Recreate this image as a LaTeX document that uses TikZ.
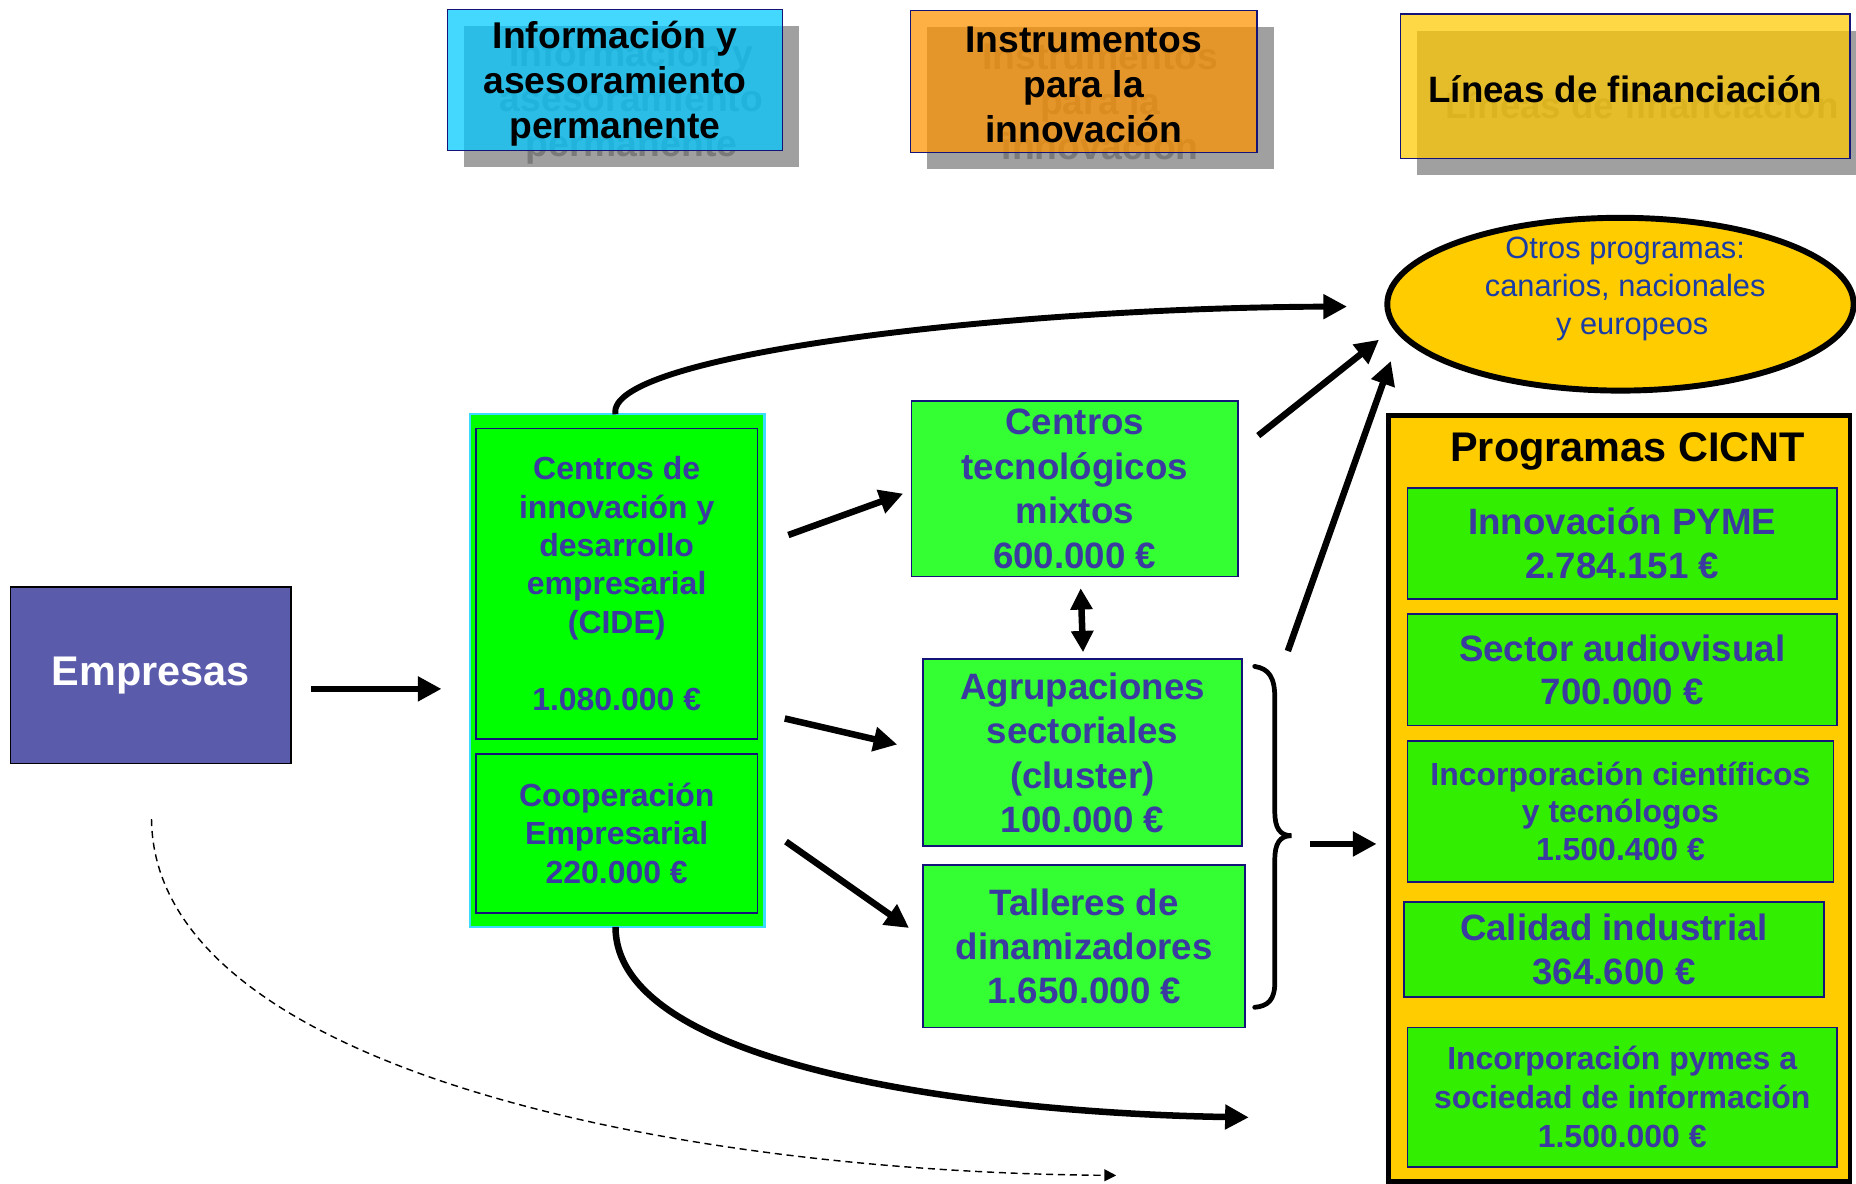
\documentclass[tikz,border=0pt]{standalone}
\usepackage{fontspec}
\setmainfont{Liberation Sans}
\usetikzlibrary{arrows.meta,shapes.geometric}
\definecolor{txtblue}{RGB}{58,58,160}
\definecolor{elltxt}{RGB}{25,60,165}
\definecolor{navy}{RGB}{20,20,120}
\definecolor{hcyan}{RGB}{0,201,255}
\definecolor{horange}{RGB}{255,147,0}
\definecolor{hyellow}{RGB}{255,201,0}
\definecolor{shadowgray}{RGB}{160,160,160}
\definecolor{shadowtxt}{RGB}{122,122,122}
\definecolor{empcol}{RGB}{91,91,171}
\definecolor{gcide}{RGB}{0,255,0}
\definecolor{gmid}{RGB}{51,255,51}
\definecolor{gcicnt}{RGB}{50,238,0}
\definecolor{gold}{RGB}{255,204,0}
\definecolor{cyanedge}{RGB}{60,220,255}
\newcommand\fsz[2]{\fontsize{#1}{#2}\selectfont\bfseries}
\begin{document}
\begin{tikzpicture}[x=1pt,y=-1pt,
  shadowbox/.style={fill=shadowgray, inner sep=0pt},
  shadowtext/.style={inner sep=0pt, align=center, text=shadowtxt},
  hdrbox/.style={draw=navy, line width=1.2pt, inner sep=0pt, fill opacity=0.73, draw opacity=1},
  hdrtext/.style={inner sep=0pt, align=center, text=black},
  gbox/.style={draw=navy, line width=1.5pt, inner sep=0pt, align=center, text=txtblue},
  arr/.style={line width=5.5pt, -{Triangle[length=20pt,width=20pt]}},
  darr/.style={line width=5.5pt, {Triangle[length=18pt,width=18pt]}-{Triangle[length=18pt,width=18pt]}},
  carr/.style={line width=5.5pt, -{Triangle[length=20pt,width=20pt]}},
]
\useasboundingbox (0,0) rectangle (1568,1000);

% headers: shadow, ghost text, translucent box, text
\node[shadowbox, minimum width=283pt, minimum height=119pt] (h1s) at (533.5,81.5) {};
\node[shadowtext, font=\fsz{31.5}{38}] (h1st) at (533.5,86) {Información y\\asesoramiento\\permanente};
\node[hdrbox, fill=hcyan, minimum width=283pt, minimum height=119pt] (h1) at (519.5,67.5) {};
\node[hdrtext, font=\fsz{31.5}{38}] (h1t) at (519.5,71) {Información y\\asesoramiento\\permanente};

\node[shadowbox, minimum width=293pt, minimum height=120pt] (h2s) at (929.5,83) {};
\node[shadowtext, font=\fsz{31.5}{38}] (h2st) at (929.5,86) {Instrumentos\\para la\\innovación};
\node[hdrbox, fill=horange, minimum width=293pt, minimum height=120pt] (h2) at (915.5,69) {};
\node[hdrtext, font=\fsz{31.5}{38}] (h2t) at (915.5,72) {Instrumentos\\para la\\innovación};

\node[shadowbox, minimum width=380pt, minimum height=122pt] (h3s) at (1387,87) {};
\node[shadowtext, font=\fsz{31}{37}] (h3st) at (1387,89) {Líneas de financiación};
\node[hdrbox, fill=hyellow, minimum width=380pt, minimum height=122pt] (h3) at (1373,73) {};
\node[hdrtext, font=\fsz{31}{37}] (h3t) at (1373,75) {Líneas de financiación};

% ellipse
\node[ellipse, draw=black, line width=5pt, fill=gold, minimum width=394pt, minimum height=146pt] (ell) at (1369,257) {};
\node[align=center, text=elltxt, font=\fontsize{26}{32}\selectfont, inner sep=0pt] (elltext) at (1373,244) {Otros programas:\\canarios, nacionales\\\hspace*{12pt}y europeos};

% Empresas
\node[draw=black, line width=1.2pt, fill=empcol, minimum width=237pt, minimum height=149pt, inner sep=0pt, text=white, font=\fsz{35}{42}] (emp) at (127.5,570.5) {Empresas};

% CIDE group
\node[draw=cyanedge, line width=2pt, fill=gcide, minimum width=249pt, minimum height=433pt, inner sep=0pt] (cideout) at (521.5,566.5) {};
\node[gbox, fill=gcide, minimum width=238pt, minimum height=262pt, font=\fsz{27}{32.4}] (cide) at (521,493) {Centros de\\innovación y\\desarrollo\\empresarial\\(CIDE)\\[32.4pt]1.080.000 €};
\node[gbox, fill=gcide, minimum width=238pt, minimum height=134pt, font=\fsz{27}{32.4}] (coop) at (521,704) {Cooperación\\Empresarial\\220.000 €};

% middle column
\node[gbox, fill=gmid, minimum width=276pt, minimum height=148pt, font=\fsz{31}{37.7}] (ctm) at (908,413) {Centros\\tecnológicos\\mixtos\\600.000 €};
\node[gbox, fill=gmid, minimum width=269pt, minimum height=158pt, font=\fsz{31}{37.5}] (agr) at (914.5,636) {Agrupaciones\\sectoriales\\(cluster)\\100.000 €};
\node[gbox, fill=gmid, minimum width=272pt, minimum height=137pt, font=\fsz{31}{37.5}] (tall) at (916,799.5) {Talleres de\\dinamizadores\\1.650.000 €};

% CICNT
\node[draw=black, line width=4pt, fill=gold, minimum width=390pt, minimum height=647pt, inner sep=0pt] (cicnt) at (1368,674.5) {};
\node[inner sep=0pt, font=\fsz{35}{42}, text=black] (cicnttitle) at (1375,381) {Programas CICNT};
\node[gbox, fill=gcicnt, minimum width=363pt, minimum height=94pt, font=\fsz{31}{37}] (p1) at (1370.5,459) {Innovación PYME\\2.784.151 €};
\node[gbox, fill=gcicnt, minimum width=363pt, minimum height=94pt, font=\fsz{31}{37}] (p2) at (1370.5,566) {Sector audiovisual\\700.000 €};
\node[gbox, fill=gcicnt, minimum width=360pt, minimum height=119pt, font=\fsz{27}{32}] (p3) at (1369,685.5) {Incorporación científicos\\y tecnólogos\\1.500.400 €};
\node[gbox, fill=gcicnt, minimum width=355pt, minimum height=80pt, font=\fsz{31}{37}] (p4) at (1363.5,802) {Calidad industrial\\364.600 €};
\node[gbox, fill=gcicnt, minimum width=363pt, minimum height=118pt, font=\fsz{27}{33}] (p5) at (1370.5,927) {Incorporación pymes a\\sociedad de información\\1.500.000 €};

% connector endpoints
\coordinate (e1) at (263,582);   \coordinate (e2) at (373,582);
\coordinate (c1) at (666,452);   \coordinate (c2) at (763,417);
\coordinate (c3) at (663,607);   \coordinate (c4) at (758,629);
\coordinate (c5) at (664,711);   \coordinate (c6) at (768,784);
\coordinate (d1) at (913,497);   \coordinate (d2) at (915,551);
\coordinate (t1) at (1063,368);  \coordinate (t2) at (1165,287);
\coordinate (b1) at (1088,550);  \coordinate (b2) at (1175,305);
\coordinate (br1) at (1107,713); \coordinate (br2) at (1163,713);
\coordinate (u1) at (520,350);   \coordinate (u2) at (1138,259);
\coordinate (l1) at (520,783);   \coordinate (l2) at (1055,944);
\coordinate (s1) at (128,692);   \coordinate (s2) at (943,993);

\draw[arr] (e1) -- (e2);
\draw[arr] (c1) -- (c2);
\draw[arr] (c3) -- (c4);
\draw[arr] (c5) -- (c6);
\draw[darr] (d1) -- (d2);
\draw[arr] (t1) -- (t2);
\draw[arr] (b1) -- (b2);
\draw[arr] (br1) -- (br2);
\draw[carr, line width=5pt] (u1) .. controls (510,300) and (850,260) .. (u2);
\draw[carr] (l1) .. controls (520,900) and (820,940) .. (l2);
\draw[line width=1.2pt, dash pattern=on 6pt off 4pt, -{Triangle[length=10pt,width=10pt]}] (s1) .. controls (130,900) and (560,990) .. (s2);

% brace
\draw[line width=4pt, line cap=round] (1060,563) .. controls (1072,565) and (1077,572) .. (1077,590) -- (1077,686) .. controls (1077,699) and (1081,706) .. (1091,706) .. controls (1081,706) and (1077,713) .. (1077,726) -- (1077,830) .. controls (1077,845) and (1071,850) .. (1060,851);
\end{tikzpicture}
\end{document}
